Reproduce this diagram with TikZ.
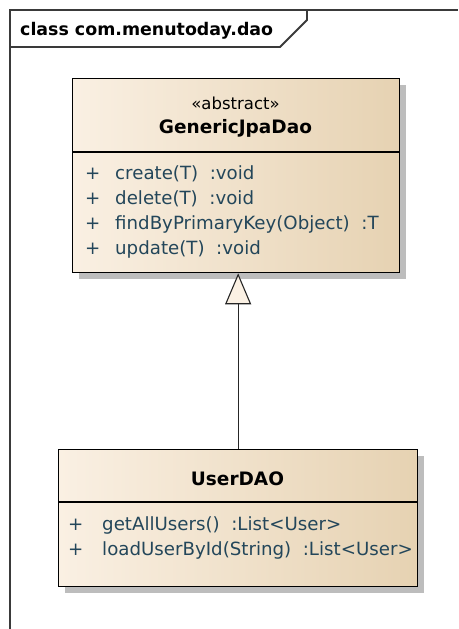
\documentclass[tikz,border=0pt]{standalone}
\usepackage{fontspec}
\setmainfont{DejaVu Sans}
\usepackage{tikz}
\usetikzlibrary{arrows.meta,positioning,shadows}
\definecolor{framegray}{HTML}{3A3A3A}
\definecolor{classlight}{HTML}{FAF0E3}
\definecolor{classtan}{HTML}{E6D2B2}
\definecolor{opteal}{HTML}{23465A}
\definecolor{tipfill}{HTML}{FBF1E4}
\definecolor{shadowgray}{HTML}{BDBDBD}
\tikzset{
  frameline/.style={draw=framegray,line width=1.8pt},
  classbox/.style={draw=black,line width=1.3pt,
                   left color=classlight,right color=classtan,
                   anchor=north west,inner sep=0pt,
                   drop shadow={shadow xshift=6pt,shadow yshift=-6pt,
                                fill=shadowgray,opacity=1}},
  divider/.style={draw=black,line width=1.1pt},
  pkgtitle/.style={anchor=base west,inner sep=0pt,
                   font=\fontsize{17.4}{20}\selectfont\bfseries},
  stereo/.style={anchor=base,inner sep=0pt,
                 font=\fontsize{16.5}{19}\selectfont},
  classname/.style={anchor=base,inner sep=0pt,
                    font=\fontsize{18.5}{21}\selectfont\bfseries},
  opvis/.style={anchor=base west,inner sep=0pt,text=opteal,
                font=\fontsize{18.2}{21}\selectfont},
  optext/.style={anchor=base west,inner sep=0pt,text=opteal,
                 font=\fontsize{18.2}{21}\selectfont},
  genarr/.style={-{Triangle[length=31pt,width=26pt,fill=tipfill]},
                 line width=1.1pt,draw=black!85}
}

\begin{document}
\begin{tikzpicture}[x=1pt,y=-1pt]
  \useasboundingbox (0,0) rectangle (458,629);

  % package frame
  \draw[frameline] (10,629) -- (10,10) -- (458,10);
  \draw[frameline] (10,47) -- (280,47) -- (307,20) -- (307,10);
  \node[pkgtitle] (pkg) at (20,35) {class com.menutoday.dao};

  % abstract base class
  \node[classbox,minimum width=327pt,minimum height=194pt] (gjd) at (72,78) {};
  \draw[divider] ([yshift=-74pt]gjd.north west) -- ([yshift=-74pt]gjd.north east);
  \node[stereo] (gjdstereo) at (235.5,109) {«abstract»};
  \node[classname] (gjdname) at (235.5,133) {GenericJpaDao};
  \node[opvis] (gjdv1) at (85,179) {+};
  \node[optext] (gjdop1) at (115,179) {create(T)\ \ :void};
  \node[opvis] (gjdv2) at (85,204) {+};
  \node[optext] (gjdop2) at (115,204) {delete(T)\ \ :void};
  \node[opvis] (gjdv3) at (85,229) {+};
  \node[optext] (gjdop3) at (115,229) {findByPrimaryKey(Object)\ \ :T};
  \node[opvis] (gjdv4) at (85,254) {+};
  \node[optext] (gjdop4) at (115,254) {update(T)\ \ :void};

  % concrete dao
  \node[classbox,minimum width=359pt,minimum height=137pt] (user) at (58,449) {};
  \draw[divider] ([yshift=-53pt]user.north west) -- ([yshift=-53pt]user.north east);
  \node[classname] (username) at (237.5,485) {UserDAO};
  \node[opvis] (userv1) at (68,530) {+};
  \node[optext] (userop1) at (102,530) {getAllUsers()\ \ :List<User>};
  \node[opvis] (userv2) at (68,555) {+};
  \node[optext] (userop2) at (102,555) {loadUserById(String)\ \ :List<User>};

  % generalisation
  \draw[genarr] (user.north) -- (user.north |- gjd.south);
\end{tikzpicture}
\end{document}
